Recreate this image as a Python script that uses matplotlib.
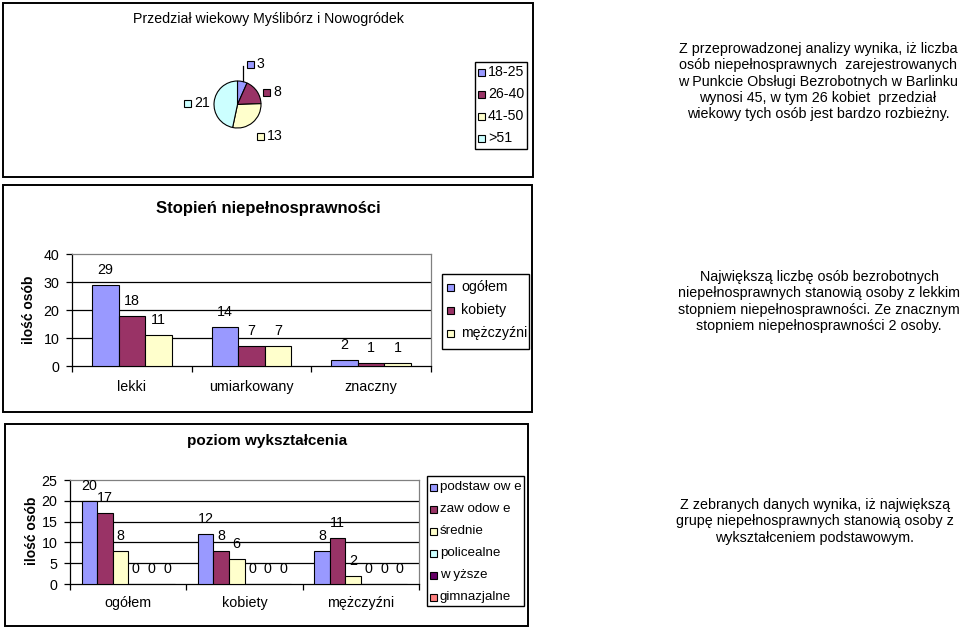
import matplotlib
matplotlib.use('Agg')
import matplotlib.pyplot as plt
from matplotlib.patches import Rectangle
import numpy as np

plt.rcParams['font.family'] = ['Liberation Sans', 'DejaVu Sans']

# ---------------- data ----------------
age_title = 'Przedział wiekowy Myślibórz i Nowogródek'
age_groups = ['18-25', '26-40', '41-50', '>51']
age_counts = [3, 8, 13, 21]

disab_title = 'Stopień niepełnosprawności'
disab_categories = ['lekki', 'umiarkowany', 'znaczny']
disab_series = ['ogółem', 'kobiety', 'mężczyźni']
disab_total = [29, 14, 2]
disab_women = [18, 7, 1]
disab_men = [11, 7, 1]
disab_yticks = [0, 10, 20, 30, 40]

edu_title = 'poziom wykształcenia'
edu_categories = ['ogółem', 'kobiety', 'mężczyźni']
edu_series = ['podstaw ow e', 'zaw odow e', 'średnie', 'policealne', 'w yższe', 'gimnazjalne']
edu_podstawowe = [20, 12, 8]
edu_zawodowe = [17, 8, 11]
edu_srednie = [8, 6, 2]
edu_policealne = [0, 0, 0]
edu_wyzsze = [0, 0, 0]
edu_gimnazjalne = [0, 0, 0]
edu_yticks = [0, 5, 10, 15, 20, 25]

ylabel_text = 'ilość osób'

text_age = ['Z przeprowadzonej analizy wynika, iż liczba',
            'osób niepełnosprawnych  zarejestrowanych',
            'w Punkcie Obsługi Bezrobotnych w Barlinku',
            'wynosi 45, w tym 26 kobiet  przedział',
            'wiekowy tych osób jest bardzo rozbieżny.']
text_disab = ['Największą liczbę osób bezrobotnych',
              'niepełnosprawnych stanowią osoby z lekkim',
              'stopniem niepełnosprawności. Ze znacznym',
              'stopniem niepełnosprawności 2 osoby.']
text_edu = ['Z zebranych danych wynika, iż największą',
            'grupę niepełnosprawnych stanowią osoby z',
            'wykształceniem podstawowym.']

# ---------------- style ----------------
C_BLUE = '#9999FF'
C_PLUM = '#993366'
C_IVORY = '#FFFFCC'
C_CYAN = '#CCFFFF'
C_PURPLE = '#660066'
C_CORAL = '#FF8080'
age_colors = [C_BLUE, C_PLUM, C_IVORY, C_CYAN]
disab_colors = [C_BLUE, C_PLUM, C_IVORY]
edu_colors = [C_BLUE, C_PLUM, C_IVORY, C_CYAN, C_PURPLE, C_CORAL]

W, H = 960, 630
fig = plt.figure(figsize=(W / 100, H / 100), dpi=100)
fig.patch.set_facecolor('white')


def rect(x0, y0, x1, y1):
    return [x0 / W, 1 - y1 / H, (x1 - x0) / W, (y1 - y0) / H]


# ---------------- pie ----------------
pcx, pcy, pr = 237.5, 104.5, 23.5
axp = fig.add_axes(rect(pcx - pr, pcy - pr, pcx + pr, pcy + pr))
wedges, _ = axp.pie(age_counts, colors=age_colors, startangle=90, counterclock=False,
                    wedgeprops=dict(edgecolor='black', linewidth=0.8))
axp.set_xlim(-1, 1)
axp.set_ylim(-1, 1)
axp.axis('off')


def draw_bars(ax, series, colors, categories, yticks, label_pad):
    n = len(series)
    w = 1.0 / (n + 1.5)
    x = np.arange(len(categories))
    for i, (vals, col) in enumerate(zip(series, colors)):
        xs = x + (i - (n - 1) / 2) * w
        ax.bar(xs, vals, width=w, color=col, edgecolor='black', linewidth=0.8, zorder=3)
        for xi, v in zip(xs, vals):
            ax.annotate(str(v), xy=(xi, v), xytext=(0, 15), textcoords='offset pixels',
                        ha='center', va='center', fontsize=10.3, zorder=5,
                        annotation_clip=False)
    ax.set_xlim(-0.5, len(categories) - 0.5)
    ax.set_ylim(yticks[0], yticks[-1])
    ax.set_yticks(yticks)
    ax.set_yticklabels([str(t) for t in yticks], fontsize=10.3)
    for t in yticks[1:-1]:
        ax.axhline(t, color='black', linewidth=0.9, zorder=1)
    ax.set_xticks(np.arange(len(categories) + 1) - 0.5)
    ax.set_xticklabels([])
    ax.set_xticks(x, minor=True)
    ax.set_xticklabels(categories, minor=True, fontsize=10.3)
    ax.tick_params(axis='x', which='major', direction='out', length=4, width=0.9)
    ax.tick_params(axis='x', which='minor', length=0, pad=label_pad)
    ax.tick_params(axis='y', direction='out', length=4, width=0.9, pad=5)
    ax.spines['left'].set_color('black')
    ax.spines['bottom'].set_color('black')
    ax.spines['top'].set_color('#808080')
    ax.spines['right'].set_color('#808080')
    for s in ax.spines.values():
        s.set_linewidth(0.9)
    ax.set_facecolor('white')


# ---------------- disability bars ----------------
ax1 = fig.add_axes(rect(72, 254, 431, 366))
draw_bars(ax1, [disab_total, disab_women, disab_men], disab_colors, disab_categories,
          disab_yticks, 10)

# ---------------- education bars ----------------
ax2 = fig.add_axes(rect(70, 480, 419, 584))
draw_bars(ax2, [edu_podstawowe, edu_zawodowe, edu_srednie, edu_policealne, edu_wyzsze,
                edu_gimnazjalne], edu_colors, edu_categories, edu_yticks, 9)

# ---------------- overlay in pixel coordinates ----------------
ov = fig.add_axes([0, 0, 1, 1], zorder=10)
ov.set_xlim(0, W)
ov.set_ylim(H, 0)
ov.axis('off')
ov.patch.set_alpha(0)

# panel frames
for (x0, y0, x1, y1) in [(3, 3, 533, 177), (3, 185, 532, 412), (5, 424, 528, 626)]:
    ov.add_patch(Rectangle((x0, y0), x1 - x0, y1 - y0, fill=False, edgecolor='black',
                           linewidth=1.4))

# titles
ov.text(268, 19, age_title, ha='center', va='center', fontsize=10.2)
ov.text(268, 208, disab_title, ha='center', va='center', fontsize=12, fontweight='bold')
ov.text(267, 441, edu_title, ha='center', va='center', fontsize=11, fontweight='bold')

# y labels
ov.text(29, 310, ylabel_text, ha='center', va='center', rotation=90, fontsize=10,
        fontweight='bold')
ov.text(32, 531, ylabel_text, ha='center', va='center', rotation=90, fontsize=10,
        fontweight='bold')


def draw_legend(box, labels, colors, first, step, mx, tx, fs=10):
    x0, y0, x1, y1 = box
    ov.add_patch(Rectangle((x0, y0), x1 - x0, y1 - y0, facecolor='white',
                           edgecolor='black', linewidth=1.0))
    for i, (lab, col) in enumerate(zip(labels, colors)):
        y = y0 + first + i * step
        ov.add_patch(Rectangle((mx - 3.5, y - 3.5), 7, 7, facecolor=col,
                               edgecolor='black', linewidth=0.8))
        ov.text(tx, y, lab, ha='left', va='center', fontsize=fs)


draw_legend((475, 62, 527, 149), age_groups, age_colors, 10, 22, 481, 488, 10.2)
draw_legend((442, 274, 529, 349), disab_series, disab_colors, 13, 23, 450, 461, 10.2)
draw_legend((427, 476, 524, 606), edu_series, edu_colors, 11, 22, 433, 440, 9.6)

# pie data labels (legend key + value), positions relative to pie centre in px
pie_label_pos = [(12.5, -40.5), (28.5, -12.5), (22.5, 31.5), (-50.5, -1.5)]
for (dx, dy), v, col in zip(pie_label_pos, age_counts, age_colors):
    mx, my = pcx + dx, pcy + dy
    ov.add_patch(Rectangle((mx - 3.5, my - 3.5), 7, 7, facecolor=col,
                           edgecolor='black', linewidth=0.8))
    ov.text(mx + 7, my, str(v), ha='left', va='center', fontsize=10.2)
# leader line for the small slice
ov.plot([pcx + 5.5, pcx + 5.5], [pcy - pr, pcy - 39], color='black', linewidth=0.9)

# commentary texts
for lines, cx, y0, step in [(text_age, 818, 49, 16.3), (text_disab, 819, 277, 16.3),
                            (text_edu, 815, 505, 16.5)]:
    for i, line in enumerate(lines):
        ov.text(cx, y0 + i * step, line, ha='center', va='center', fontsize=10.3)

fig.savefig('out.png', dpi=100)
